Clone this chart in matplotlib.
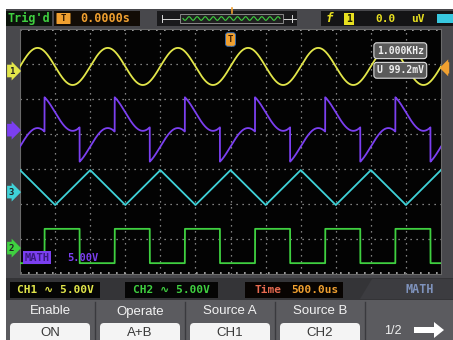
import numpy as np
import matplotlib.pyplot as plt
from matplotlib import patches

# scope settings
t_div = 500.0          # us / div
v_div = 5.0            # V / div
n_xdiv, n_ydiv = 12, 7

# CH1: 1 kHz sine
ch1_freq = 1000.0      # Hz
ch1_amp = 2.65         # V
ch1_pos = 2.43         # trace centre, div
ch1_mark = 2.30        # ground marker, div

# CH2: square wave, edge times in us
ch2_rise = [-2650, -1650, -650, 350, 1350, 2350]
ch2_fall = [-2150, -1150, -150, 850, 1850, 2850]
ch2_amp = 2.45
ch2_pos = -2.70
ch2_mark = -2.76

# CH3: triangle wave corners
ch3_t = [-3000, -2500, -2000, -1500, -1000, -500, 0, 500, 1000, 1500, 2000, 2500, 3000]
ch3_v = [2.5, -2.5, 2.5, -2.5, 2.5, -2.5, 2.5, -2.5, 2.5, -2.5, 2.5, -2.5, 2.5]
ch3_pos = -1.03
ch3_mark = -1.16

# MATH = CH1 + CH2
math_pos = 0.63
math_mark = 0.61

menu_titles = ['Enable', 'Operate', 'Source A', 'Source B']
menu_values = ['ON', 'A+B', 'CH1', 'CH2']

YEL = '#e2e64a'
PUR = '#7b3ff0'
CYA = '#3fd2d8'
GRN = '#3fd040'
ORG = '#f0a030'
MONO = ['DejaVu Sans Mono', 'DejaVu Sans', 'Noto Sans', 'Noto Sans CJK SC']
SANS = 'Liberation Sans'

t = np.linspace(-3000, 3000, 6001)
ch1 = ch1_amp * np.sin(2 * np.pi * ch1_freq * t * 1e-6)
ch2 = -np.ones_like(t)
for r, f in zip(ch2_rise, ch2_fall):
    ch2[(t >= r) & (t < f)] = 1
ch2 = ch2 * ch2_amp
ch3 = np.interp(t, ch3_t, ch3_v)
math = ch1 + ch2

fig = plt.figure(figsize=(4.53, 3.40), dpi=100)
fig.patch.set_facecolor('white')

# screen furniture in pixel coordinates
sc = fig.add_axes([0, 0, 1, 1])
sc.set_xlim(0, 453)
sc.set_ylim(340, 0)
sc.axis('off')

def box(x0, y0, x1, y1, fc, ec='none', lw=0, style=None, z=1):
    if style:
        p = patches.FancyBboxPatch((x0, y0), x1 - x0, y1 - y0, boxstyle=style,
                                   fc=fc, ec=ec, lw=lw, zorder=z)
    else:
        p = patches.Rectangle((x0, y0), x1 - x0, y1 - y0, fc=fc, ec=ec, lw=lw, zorder=z)
    sc.add_patch(p)

def txt(x, y, s, c, size=8, fam=MONO, weight='bold', ha='center', **kw):
    sc.text(x, y, s, color=c, fontsize=size, family=fam, weight=weight,
            ha=ha, va='center', zorder=5, **kw)

box(6, 9, 453, 340, '#48484c', z=0)

# top status bar
box(6, 11, 52, 26, '#0b120b')
txt(29, 18.5, "Trig'd", GRN, 8.5)
box(54, 11, 140, 26, '#120c06')
box(57, 13.5, 70, 23.5, ORG, style='round,pad=0.5')
txt(63.5, 18.5, 'T', '#301800', 6.5)
txt(105, 18.5, '0.0000s', ORG, 8.5)
box(157, 11, 297, 26, '#1a1a1c')
sc.plot([162, 296], [18.5, 18.5], color='#d8d8d8', lw=0.7, zorder=2)
sc.plot([162, 162], [15, 22], color='#d8d8d8', lw=0.7, zorder=2)
sc.plot([292, 292], [15, 22], color='#d8d8d8', lw=0.7, zorder=2)
box(180, 14, 283, 23, '#202020', ec='#9a9a9a', lw=0.6, z=3)
zz = np.linspace(183, 280, 400)
sc.plot(zz, 18.5 + 1.8 * np.sin((zz - 183) / 97 * 2 * np.pi * 12), color=GRN, lw=0.8, zorder=4)
sc.plot([232, 232], [8, 13], color=ORG, lw=1.2, zorder=4)
box(321, 11, 453, 26, '#141416')
txt(329, 18.5, 'f', '#e8e020', 9, style='italic')
box(344, 12.5, 354, 24.5, '#e8e020', z=3)
txt(349, 18.5, '1', '#202000', 7)
txt(385, 18.5, '0.0', '#e8e020', 8)
txt(418, 18.5, 'uV', '#e8e020', 8)
box(437, 14, 453, 23, '#38c8e0', z=3)

# status row and menu
box(6, 278, 453, 300, '#343437')
box(10, 282, 100, 298, '#050505')
txt(55, 290, 'CH1 \u223f 5.00V', YEL, 8)
box(125, 282, 218, 298, '#050505')
txt(171.5, 290, 'CH2 \u223f 5.00V', GRN, 8)
box(245, 282, 343, 298, '#080402')
txt(268, 290, 'Time', '#e86a50', 8)
txt(315, 290, '500.0us', ORG, 8)
sc.add_patch(patches.Polygon([[360, 299], [372, 279], [453, 279], [453, 299]],
                             closed=True, fc='#3c3c40', ec='none', zorder=2))
txt(420, 289.5, 'MATH', '#7f93bd', 8.5)

box(6, 300, 453, 340, '#5b5b5f')
for i, (tl, vl) in enumerate(zip(menu_titles, menu_values)):
    x0 = 10 + 90 * i
    txt(x0 + 40, 311.5, tl, '#f2f2f2', 9.5, fam=SANS, weight='normal')
    box(x0, 323, x0 + 80, 345, '#f4f4f4', style='round,pad=0,rounding_size=4', z=2)
    txt(x0 + 40, 333.5, vl, '#383838', 9.5, fam=SANS, weight='normal')
    sc.plot([x0 + 85, x0 + 85], [302, 340], color='#3a3a3e', lw=1.0, zorder=2)
txt(393, 331, '1/2', '#f2f2f2', 9, fam=SANS, weight='normal')
sc.add_patch(patches.FancyArrow(414, 330, 20, 0, width=6, head_width=16,
                                head_length=10, fc='white', ec='none', zorder=4))

# grid area
gx0, gx1, gy0, gy1 = 20, 441, 29, 274
ax = fig.add_axes([gx0 / 453, 1 - gy1 / 340, (gx1 - gx0) / 453, (gy1 - gy0) / 340])
ax.set_facecolor('#030303')
xmax = t_div * n_xdiv / 2
ymax = n_ydiv / 2
ax.set_xlim(-xmax, xmax)
ax.set_ylim(-ymax, ymax)
ax.set_xticks([])
ax.set_yticks([])
for s in ax.spines.values():
    s.set_color('#6a6a6a')
    s.set_linewidth(0.8)

for k in range(1, n_xdiv):
    ax.axvline(-xmax + k * t_div, color='#a8a8a8', lw=0.9, ls=(0, (1.0, 3.8)), zorder=1)
for k in range(1, n_ydiv):
    ax.axhline(-ymax + k, color='#a8a8a8', lw=0.9, ls=(0, (1.0, 3.8)), zorder=1)
ax.axhline(ymax - 0.02, color='#b8b8b8', lw=1.2, ls=(0, (1.0, 3.8)), zorder=1)
ax.axhline(-ymax + 0.02, color='#b8b8b8', lw=1.2, ls=(0, (1.0, 3.8)), zorder=1)

ax.plot(t, ch1 / v_div + ch1_pos, color=YEL, lw=1.3, zorder=3)
ax.plot(t, math / v_div + math_pos, color=PUR, lw=1.3, zorder=3)
ax.plot(t, ch3 / v_div + ch3_pos, color=CYA, lw=1.3, zorder=3)
ax.plot(t, ch2 / v_div + ch2_pos, color=GRN, lw=1.3, zorder=3)

# math scale label
ax.text(-xmax + 60, -3.03, 'MATH', color='#3a1a80', fontsize=7.5, family=MONO,
        weight='bold', va='center', zorder=5,
        bbox=dict(boxstyle='square,pad=0.15', fc=PUR, ec='none'))
ax.text(-xmax + 680, -3.03, '5.00V', color=PUR, fontsize=7.5, family=MONO,
        weight='bold', va='center', zorder=5)

# trigger position marker
ax.text(0, ymax - 0.3, 'T', color='#3a1c00', fontsize=6.5, family=MONO, weight='bold',
        ha='center', va='center', zorder=6,
        bbox=dict(boxstyle='round,pad=0.25', fc=ORG, ec='#3070c0', lw=0.6))

# measurement readouts
ax.text(xmax - 580, ymax - 0.62, '1.000KHz', color='#eeeeee', fontsize=7, family=MONO,
        weight='bold', ha='center', va='center', zorder=6,
        bbox=dict(boxstyle='round,pad=0.3', fc='#5a5a5a', ec='#dcdcdc', lw=0.8))
ax.text(xmax - 580, ymax - 1.18, 'U 99.2mV', color='#eeeeee', fontsize=7, family=MONO,
        weight='bold', ha='center', va='center', zorder=6,
        bbox=dict(boxstyle='round,pad=0.3', fc='#5a5a5a', ec='#dcdcdc', lw=0.8))

# channel ground markers on the left edge
trans = ax.get_yaxis_transform()
for yv, col, lab in [(ch1_mark, YEL, '1'), (math_mark, PUR, ' '),
                     (ch3_mark, CYA, '3'), (ch2_mark, GRN, '2')]:
    ax.text(-0.02, yv, lab, transform=trans, color='#202020',
            fontsize=6.5, family=MONO, weight='bold', ha='center', va='center',
            zorder=6, clip_on=False,
            bbox=dict(boxstyle='rarrow,pad=0.2', fc=col, ec='none'))

# trigger level marker on the right edge
ax.text(1.014, 2.39, ' ', transform=trans, fontsize=5.5, ha='center', va='center',
        clip_on=False, zorder=6, bbox=dict(boxstyle='larrow,pad=0.15', fc=ORG, ec='none'))

fig.savefig('out.png', dpi=100)
